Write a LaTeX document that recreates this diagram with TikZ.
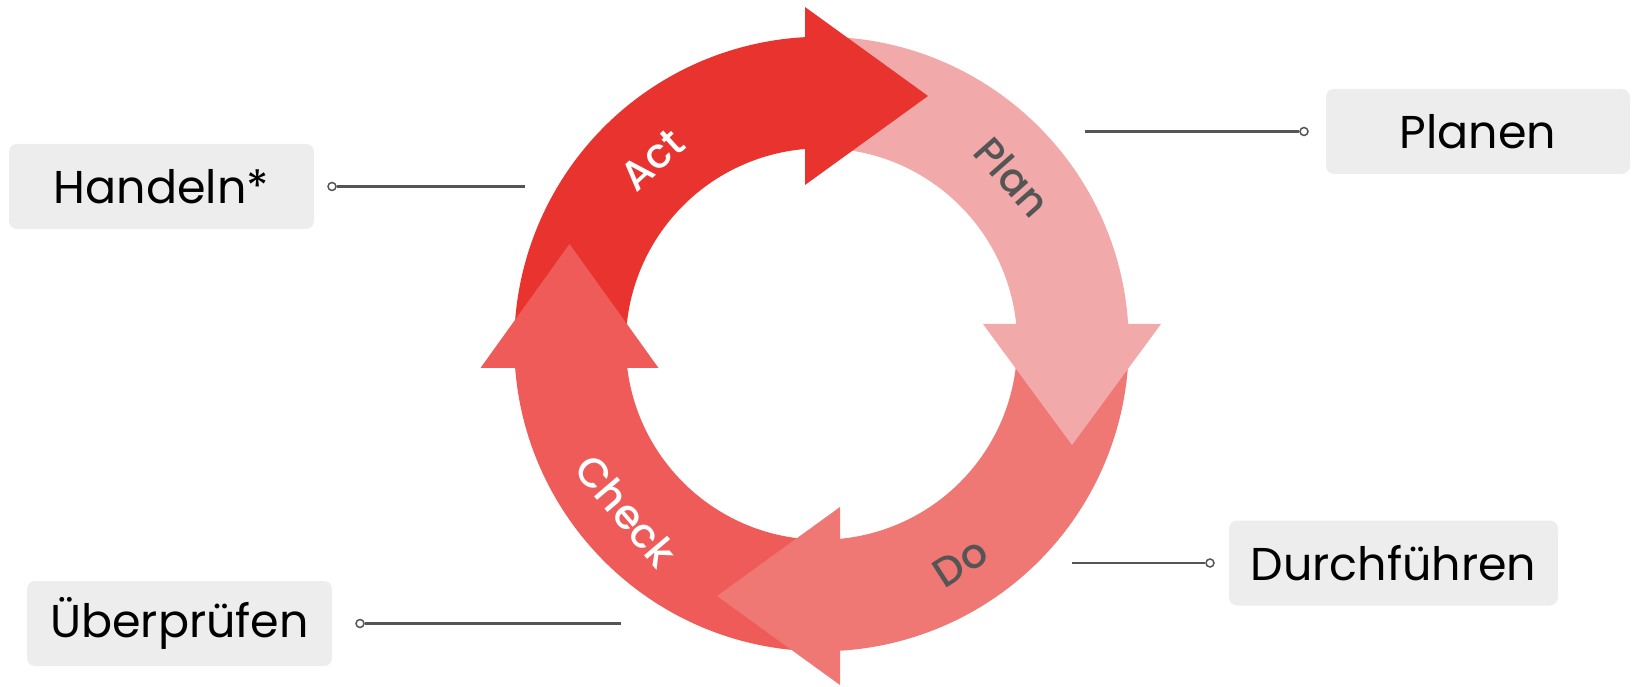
\documentclass[tikz,border=0pt]{standalone}
\usepackage{fontspec}
\setmainfont{Poppins}
\newfontfamily\labfont{Poppins}[UprightFont={* Medium}]
\usetikzlibrary{calc}
\definecolor{actc}{HTML}{E9332F}
\definecolor{planc}{HTML}{F1A9A9}
\definecolor{doc}{HTML}{EF7875}
\definecolor{checkc}{HTML}{EE5B59}
\definecolor{boxc}{HTML}{EDEDED}
\definecolor{linec}{HTML}{555555}
\definecolor{labc}{HTML}{555555}
\newcommand\bandseg[3]{\fill[#1] ($(O)+(#2:307.3)$) arc[start angle=#2, end angle=#3, radius=307.3pt] -- ($(O)+(#3:195.7)$) arc[start angle=#3, end angle=#2, radius=195.7pt] -- cycle;}
\begin{document}
\begin{tikzpicture}[x=1pt,y=1pt,
  box/.style={fill=boxc, rounded corners=8pt, minimum height=85pt, inner sep=0pt, text=black, font=\fontsize{46}{55}\selectfont},
  arclab/.style={inner sep=0pt, font=\labfont\fontsize{41}{50}\selectfont},
  dot/.style={circle, draw=linec, fill=white, line width=1.5pt, minimum size=8pt, inner sep=0pt},
  conn/.style={draw=linec, line width=2.2pt}]
\useasboundingbox (0,0) rectangle (1636,686);
\coordinate (O) at (821.5,342);
% bands
\bandseg{actc}{181.47}{89.76}
\bandseg{planc}{89.76}{0.56}
\bandseg{doc}{0.56}{-89.78}
\bandseg{checkc}{270.22}{181.47}
% heads
\fill[actc] (805,501) -- (805,679) -- (928,590) -- cycle;
\fill[planc] (983,362) -- (1161,362) -- (1072,241) -- cycle;
\fill[doc] (840,1) -- (840,179) -- (717,90) -- cycle;
\fill[checkc] (480.5,318) -- (658.5,318) -- (569.5,442) -- cycle;
% arc labels
\node[arclab, text=white, rotate=42.5] (lact) at ($(O)+(132.5:250)$) {Act};
\node[arclab, text=labc, rotate=-48.5] (lplan) at ($(O)+(41.2:254)$) {Plan};
\node[arclab, text=labc, rotate=32.5] (ldo) at ($(O)+(-57.5:259)$) {Do};
\node[arclab, text=white, rotate=-49.5] (lcheck) at ($(O)+(220.5:257)$) {Check};
% boxes
\node[box, minimum width=305pt] (handeln) at (161.5,499.5) {Handeln*};
\node[box, minimum width=304pt] (planen) at (1478,554.5) {Planen};
\node[box, minimum width=329pt] (durch) at (1393.5,123) {Durchführen};
\node[box, minimum width=305pt] (ueber) at (179.5,62.5) {Überprüfen};
% connectors
\coordinate (eh) at (525,499.5);
\coordinate (ep) at (1085,554.5);
\coordinate (ed) at (1072,123);
\coordinate (eu) at (621,62.5);
\node[dot] (dh) at (332,499.5) {};
\node[dot] (dp) at (1304,554.5) {};
\node[dot] (dd) at (1210,123) {};
\node[dot] (du) at (360,62.5) {};
\draw[conn] (dh) -- (eh);
\draw[conn] (ep) -- (dp);
\draw[conn] (ed) -- (dd);
\draw[conn] (du) -- (eu);
\end{tikzpicture}
\end{document}
